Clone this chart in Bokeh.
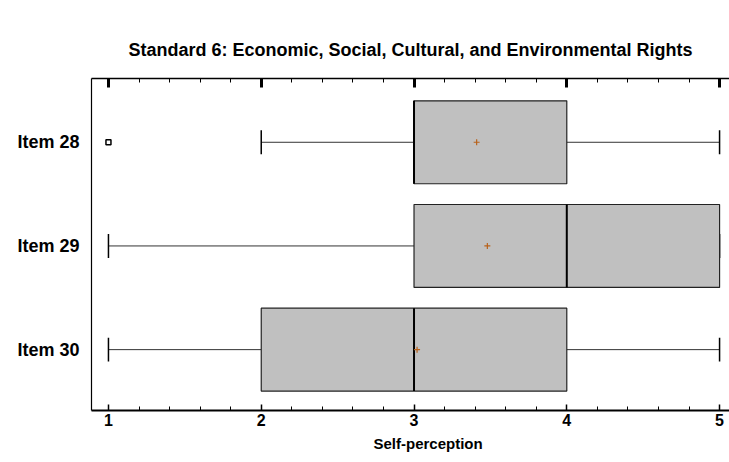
from bokeh.plotting import figure
from bokeh.models import LinearAxis, FixedTicker, Range1d, Title
from bokeh.embed import file_html
from bokeh.resources import INLINE

# Five-number summaries per item (self-perception scale 1-5)
items = ["Item 28", "Item 29", "Item 30"]
positions = [3, 2, 1]
q1 = [3, 3, 2]
median = [3, 4, 3]
q3 = [4, 5, 4]
whisker_low = [2, 1, 1]
whisker_high = [5, 5, 5]
means = [3.41, 3.48, 3.02]
outlier_item = ["Item 28"]
outlier_value = [1]

x_ticks = [1, 2, 3, 4, 5]

FONT = "Liberation Sans"
BOX_HALF = 0.4
CAP_HALF = 0.115

pos_of = dict(zip(items, positions))

p = figure(width=729, height=462, output_backend="svg", toolbar_location=None,
           x_range=Range1d(0.889, 5.065), y_range=Range1d(0.413, 3.615),
           min_border_left=91, min_border_right=0, min_border_top=78,
           min_border_bottom=52, x_axis_location=None, y_axis_location=None)
p.grid.visible = False
p.outline_line_color = None
p.background_fill_color = "white"
p.border_fill_color = "white"

# whiskers and caps
p.segment(x0=whisker_low, y0=positions, x1=q1, y1=positions, line_color="#333333", line_width=1)
p.segment(x0=q3, y0=positions, x1=whisker_high, y1=positions, line_color="#333333", line_width=1)
p.segment(x0=whisker_low, y0=[y - CAP_HALF for y in positions],
          x1=whisker_low, y1=[y + CAP_HALF for y in positions], line_color="black", line_width=1.5)
p.segment(x0=whisker_high, y0=[y - CAP_HALF for y in positions],
          x1=whisker_high, y1=[y + CAP_HALF for y in positions], line_color="black", line_width=1.5)

# boxes
p.quad(left=q1, right=q3, bottom=[y - BOX_HALF for y in positions], top=[y + BOX_HALF for y in positions],
       fill_color="#c0c0c0", line_color="#222222", line_width=1.2)

# medians
p.segment(x0=median, y0=[y - BOX_HALF for y in positions], x1=median,
          y1=[y + BOX_HALF for y in positions], line_color="black", line_width=2)

# means
p.scatter(x=means, y=positions, marker="cross", size=6, line_color="#b8621b", line_width=1.2)

# outliers
p.scatter(x=outlier_value, y=[pos_of[i] for i in outlier_item], marker="square", size=5,
          fill_color="white", line_color="black", line_width=1.5)

minor = [round(1 + 0.2 * k, 1) for k in range(21)]

# bottom axis
xb = LinearAxis(ticker=FixedTicker(ticks=x_ticks, minor_ticks=minor))
xb.axis_line_width = 2
xb.major_tick_in = 6
xb.major_tick_out = 0
xb.major_tick_line_width = 1.5
xb.minor_tick_in = 4
xb.minor_tick_out = 0
xb.major_label_text_font = FONT
xb.major_label_text_font_style = "bold"
xb.major_label_text_font_size = "16px"
xb.major_label_text_color = "black"
xb.major_label_standoff = 3
p.add_layout(xb, "below")

# axis title under the tick labels
xlabel = Title(text="Self-perception", align="left", offset=282, text_font=FONT,
               text_font_style="bold", text_font_size="15px", text_color="black", standoff=9)
p.add_layout(xlabel, "below")

# top axis (ticks only)
xt = LinearAxis(ticker=FixedTicker(ticks=x_ticks, minor_ticks=minor))
xt.axis_line_width = 1.5
xt.major_tick_in = 9
xt.major_tick_out = 0
xt.major_tick_line_width = 3
xt.minor_tick_in = 4
xt.minor_tick_out = 0
xt.major_label_text_font_size = "0px"
xt.major_label_standoff = 0
p.add_layout(xt, "above")

# left axis with item labels
yl = LinearAxis(ticker=FixedTicker(ticks=positions, minor_ticks=[]),
                major_label_overrides={pos: name for pos, name in zip(positions, items)})
yl.axis_line_width = 1.2
yl.major_tick_in = 0
yl.major_tick_out = 0
yl.major_label_standoff = 12
yl.major_label_text_font = FONT
yl.major_label_text_font_style = "bold"
yl.major_label_text_font_size = "18px"
yl.major_label_text_color = "black"
p.add_layout(yl, "left")

title = Title(text="Standard 6: Economic, Social, Cultural, and Environmental Rights",
              align="center", text_font=FONT, text_font_style="bold",
              text_font_size="18px", text_color="black", standoff=38)
p.add_layout(title, "above")

open("out.html", "w").write(file_html(p, INLINE))
